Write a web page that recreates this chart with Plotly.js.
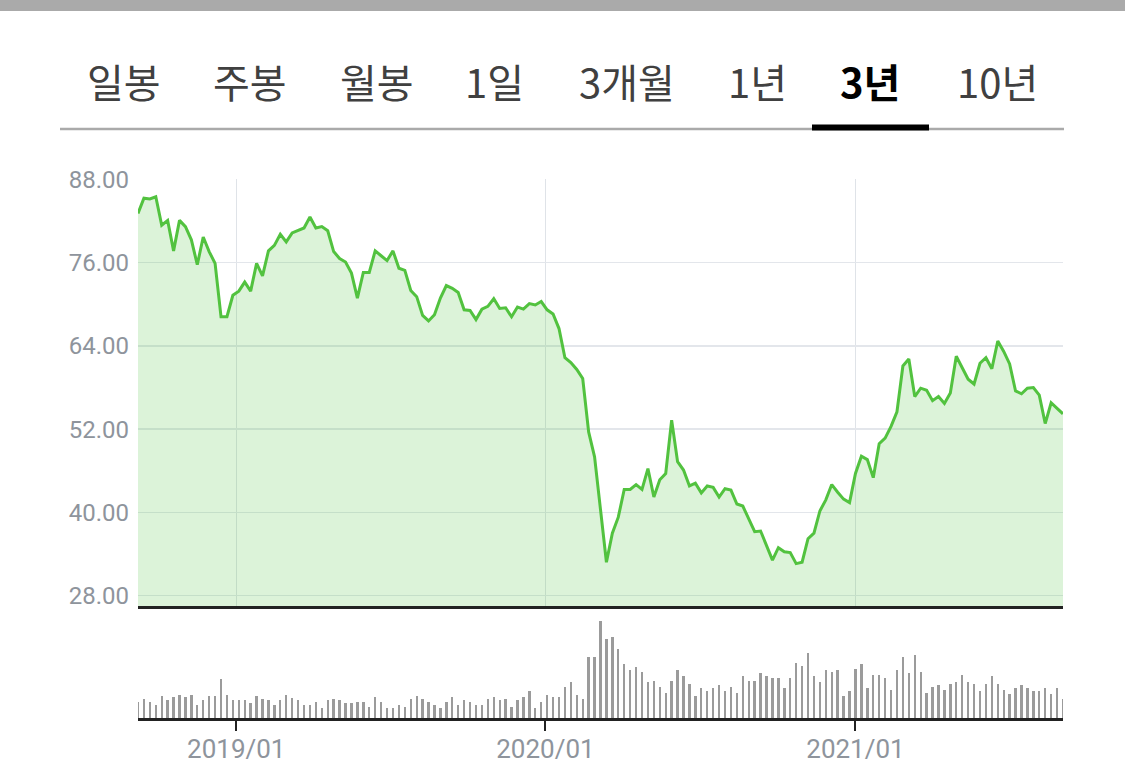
<!DOCTYPE html>
<html>
<head>
<meta charset="utf-8">
<script src="https://cdn.plot.ly/plotly-3.0.1.min.js"></script>
<style>
  html, body { margin: 0; padding: 0; background: #ffffff; }
  #chart { width: 1125px; height: 771px; }
</style>
</head>
<body>
<div id="chart"></div>
<script>
// Weekly closing prices (3 years, weekly)
const prices = [
  83.1, 85.3, 85.2, 85.5, 81.4, 82.1, 77.7, 82.1, 81.2, 79.3,
  75.7, 79.7, 77.6, 75.9, 68.2, 68.2, 71.3, 71.9, 73.2, 71.9,
  75.9, 74.1, 77.7, 78.5, 80.1, 79.0, 80.3, 80.6, 81.0, 82.6,
  81.0, 81.2, 80.6, 77.6, 76.6, 76.1, 74.5, 70.9, 74.6, 74.6,
  77.7, 77.0, 76.3, 77.7, 75.2, 74.9, 72.0, 71.1, 68.4, 67.6,
  68.5, 70.9, 72.7, 72.3, 71.7, 69.2, 69.1, 67.8, 69.3, 69.7,
  70.8, 69.4, 69.5, 68.2, 69.6, 69.3, 70.1, 69.9, 70.4, 69.2,
  68.6, 66.5, 62.3, 61.6, 60.6, 59.3, 51.6, 48.0, 40.4, 32.8,
  37.0, 39.3, 43.3, 43.3, 44.0, 43.3, 46.3, 42.2, 44.7, 45.6,
  53.3, 47.3, 46.1, 43.8, 44.2, 42.8, 43.8, 43.6, 42.2, 43.4,
  43.2, 41.2, 40.9, 39.1, 37.2, 37.3, 35.1, 33.1, 34.9, 34.3,
  34.2, 32.6, 32.8, 36.2, 37.0, 40.2, 41.8, 44.0, 42.9, 41.9,
  41.4, 45.6, 48.1, 47.6, 45.0, 49.9, 50.7, 52.4, 54.5, 61.1,
  62.1, 56.7, 57.9, 57.6, 56.1, 56.7, 55.7, 57.2, 62.5, 60.8,
  59.2, 58.5, 61.5, 62.3, 60.7, 64.7, 63.2, 61.4, 57.5, 57.1,
  57.9, 58.0, 56.9, 52.8, 55.8, 55.0, 54.2
];

// Weekly volume (relative units)
const volumes = [
  16.3, 19, 16.3, 13, 21.7, 18, 20.7, 23.3, 20.7, 23.3,
  13, 18, 21.7, 21.7, 38.7, 23.3, 18, 18, 18, 14.7,
  21.7, 19, 18, 13, 18, 23.3, 19.7, 18, 13, 13,
  16.3, 10, 18, 19, 18, 14.7, 14.7, 16.3, 16.3, 11.3,
  20.7, 16.3, 10, 10, 13, 11.3, 19, 21.7, 19, 16.3,
  13, 10, 16.3, 20.7, 13, 18, 16.3, 13, 13, 19,
  20.7, 18, 19, 11.3, 18, 20.7, 26.7, 10, 16.3, 23.3,
  20.7, 20.7, 31.3, 35.7, 23.3, 19, 61.3, 61.3, 97.3, 79,
  80.7, 69, 54, 48, 50.7, 46.3, 35.7, 37.3, 31.3, 25.3,
  37.3, 48, 42, 34.3, 22.3, 29.7, 26.7, 29.7, 32.7, 27.3,
  31.3, 25.3, 42, 37.3, 37.3, 45, 42, 40.3, 40.3, 29.7,
  40.3, 55.3, 52.3, 64.7, 42, 35.7, 48, 46.3, 48, 22.3,
  26.7, 49.3, 54, 29.7, 43.3, 43.3, 40.3, 28.3, 48, 61.3,
  45, 63, 46.3, 25.3, 31.3, 32.7, 28.3, 34.3, 35.7, 43.3,
  35.7, 34.3, 26.7, 34.3, 42, 34.3, 28.3, 24, 29.7, 32.7,
  29.7, 26.7, 26.7, 29.7, 24, 29.7, 19
];

const firstWeek = '2018-09-07';
const lastWeek = '2021-09-03';

const xTickVals = ['2019-01-01', '2020-01-01', '2021-01-01'];
const xTickText = ['2019/01', '2020/01', '2021/01'];
const yTickVals = [28, 40, 52, 64, 76, 88];

const tabLabels = ['일봉', '주봉', '월봉', '1일', '3개월', '1년', '3년', '10년'];
const selectedTab = '3년';

// weekly calendar dates for the series
const dates = [];
(function () {
  const d = new Date(firstWeek + 'T00:00:00Z');
  for (let i = 0; i < prices.length; i++) {
    dates.push(d.toISOString().slice(0, 10));
    d.setUTCDate(d.getUTCDate() + 7);
  }
})();

const W = 1125, H = 771;
const px = v => v / W;
const py = v => 1 - v / H;

const tabCenters = [124, 250, 377, 494, 627, 757, 870, 997];

const annotations = tabLabels.map((t, i) => ({
  text: t,
  xref: 'paper', yref: 'paper',
  x: px(tabCenters[i]), y: py(81),
  xanchor: 'center', yanchor: 'middle',
  showarrow: false,
  font: {
    family: 'Noto Sans CJK KR, sans-serif',
    size: 40,
    color: t === selectedTab ? '#000000' : '#404040',
    weight: t === selectedTab ? 700 : 400
  }
}));

const shapes = [
  // top gray strip
  { type: 'rect', xref: 'paper', yref: 'paper', x0: 0, x1: 1, y0: py(11), y1: 1,
    fillcolor: '#aaaaaa', line: { width: 0 }, layer: 'above' },
  // tab underline
  { type: 'line', xref: 'paper', yref: 'paper', x0: px(60), x1: px(1064), y0: py(129), y1: py(129),
    line: { color: '#aaaaaa', width: 2.5 } },
  // selected tab indicator
  { type: 'rect', xref: 'paper', yref: 'paper', x0: px(812), x1: px(929), y0: py(130.5), y1: py(124.5),
    fillcolor: '#000000', line: { width: 0 } }
];

const traces = [
  {
    type: 'scatter', mode: 'lines',
    x: dates, y: prices,
    xaxis: 'x2', yaxis: 'y',
    line: { color: '#52c23f', width: 3 },
    fill: 'tozeroy', fillcolor: 'rgba(82,194,63,0.2)',
    hoverinfo: 'skip'
  },
  {
    type: 'bar',
    x: dates, y: volumes,
    xaxis: 'x', yaxis: 'y2',
    marker: { color: '#9b9b9b', line: { width: 0 } },
    width: 2.8 * 86400000,
    hoverinfo: 'skip'
  }
];

const xDomain = [px(138), px(1063)];

const layout = {
  width: W, height: H,
  margin: { l: 0, r: 0, t: 0, b: 0, pad: 0 },
  paper_bgcolor: '#ffffff', plot_bgcolor: '#ffffff',
  showlegend: false,
  bargap: 0,
  xaxis: {
    domain: xDomain, anchor: 'y2',
    type: 'date', range: [firstWeek, lastWeek],
    showgrid: false, zeroline: false,
    showline: true, linecolor: '#222222', linewidth: 3,
    ticks: 'outside', ticklen: 10, tickwidth: 2, tickcolor: '#222222',
    tickvals: xTickVals, ticktext: xTickText,
    tickfont: { family: 'Roboto, sans-serif', size: 26, color: '#8e949c' },
    ticklabelstandoff: -4
  },
  xaxis2: {
    domain: xDomain, anchor: 'y',
    type: 'date', range: [firstWeek, lastWeek],
    showgrid: true, gridcolor: '#dfe3e8', gridwidth: 1.5,
    zeroline: false,
    showline: true, linecolor: '#222222', linewidth: 3,
    ticks: '', showticklabels: false,
    tickvals: xTickVals
  },
  yaxis: {
    domain: [py(606), py(178.5)], anchor: 'x2',
    range: [26.49, 88.14],
    tickvals: yTickVals, tickformat: '.2f',
    showgrid: true, gridcolor: '#e3e6eb', gridwidth: 1.5,
    zeroline: false, showline: false, ticks: '',
    tickfont: { family: 'Roboto, sans-serif', size: 24, color: '#8e949c' },
    ticklabelstandoff: 8
  },
  yaxis2: {
    domain: [py(718), py(618)], anchor: 'x',
    range: [0, 100],
    showgrid: false, zeroline: false, showline: false,
    showticklabels: false, ticks: ''
  },
  shapes: shapes,
  annotations: annotations
};

Plotly.newPlot('chart', traces, layout, { staticPlot: true, displayModeBar: false });
</script>
</body>
</html>
